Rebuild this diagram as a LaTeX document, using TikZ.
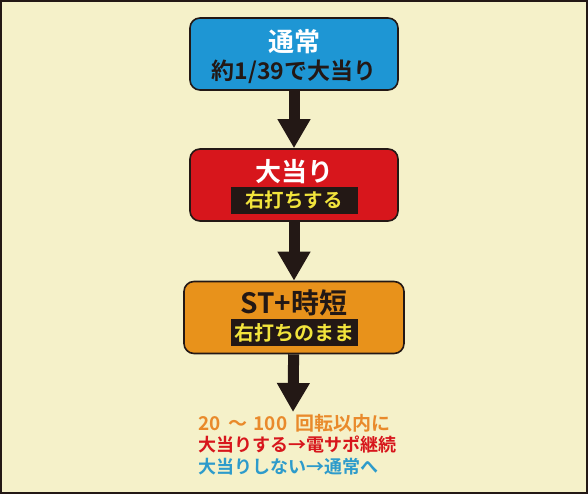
\documentclass[tikz,border=0pt]{standalone}
\usepackage{fontspec}
\setmainfont{Noto Sans CJK JP Bold}
\usepackage{tikz}
\usetikzlibrary{positioning, arrows.meta}

\definecolor{paper}{HTML}{F5F1C9}
\definecolor{ink}{HTML}{231815}
\definecolor{tsujoblue}{HTML}{1E96D4}
\definecolor{oatarired}{HTML}{D7161C}
\definecolor{jitanorange}{HTML}{E8921B}
\definecolor{labelyellow}{HTML}{F2E43C}
\definecolor{noteorange}{HTML}{E98A2B}
\definecolor{noteblue}{HTML}{2D9BCB}

\begin{document}
\begin{tikzpicture}[node distance=131pt,
                    flow box/.style={rectangle,rounded corners=10pt,draw=ink,line width=1.6pt,
                                     minimum width=208pt,minimum height=72pt},
                    title/.style={inner sep=0pt,font=\fontsize{26}{26}\selectfont},
                    tag/.style={fill=ink,text=labelyellow,inner sep=0pt,minimum width=127pt,
                                minimum height=27pt,font=\fontsize{19.5}{19.5}\selectfont},
                    note/.style={anchor=west,inner sep=0pt,font=\fontsize{18}{18}\selectfont},
                    flow arrow/.style={ink,line width=11pt,-{Triangle[length=29pt,width=31pt]}}]

  \useasboundingbox (0,0) rectangle (588pt,-494pt);
  \fill[paper] (0,0) rectangle (588pt,-494pt);
  \draw[ink,line width=2pt] (1pt,-1pt) rectangle (587pt,-493pt);

  \node[flow box,fill=tsujoblue] (tsujo) at (294pt,-54pt) {};
  \node[flow box,fill=oatarired] (oatari) [below of=tsujo] {};
  \node[flow box,fill=jitanorange,minimum width=220pt] (jitan) [below of=oatari,yshift=-1.5pt] {};

  % box texts
  \node[title,text=white] (tsujo title) at ([yshift=12pt]tsujo.center) {通常};
  \node[title,text=ink,font=\fontsize{23}{23}\selectfont] (tsujo odds) at ([yshift=-18pt]tsujo.center) {約1/39で大当り};
  \node[title,text=white] (oatari title) at ([yshift=13pt]oatari.center) {大当り};
  \node[tag] (oatari tag) at ([yshift=-15.5pt]oatari.center) {右打ちする};
  \node[title,text=ink,font=\fontsize{28}{28}\selectfont] (jitan title) at ([yshift=14.5pt]jitan.center) {ST+時短};
  \node[tag,font=\fontsize{20}{20}\selectfont] (jitan tag) at ([yshift=-15pt]jitan.center) {右打ちのまま};

  % notes under the last box
  \coordinate (end) at (293pt,-412pt);
  \node[note,text=noteorange,font=\fontsize{19}{19}\selectfont] (note1) at (198pt,-423pt)
    {20\hspace{8pt}～\hspace{6pt}100\hspace{8pt}回転以内に};
  \node[note,text=oatarired] (note2) at (198pt,-445pt) {大当りする→電サポ継続};
  \node[note,text=noteblue] (note3) at (198pt,-467pt) {大当りしない→通常へ};

  \draw[flow arrow] (tsujo) -- (oatari);
  \draw[flow arrow] (oatari) -- (jitan);
  \draw[flow arrow] (jitan) -- (end);
\end{tikzpicture}
\end{document}
